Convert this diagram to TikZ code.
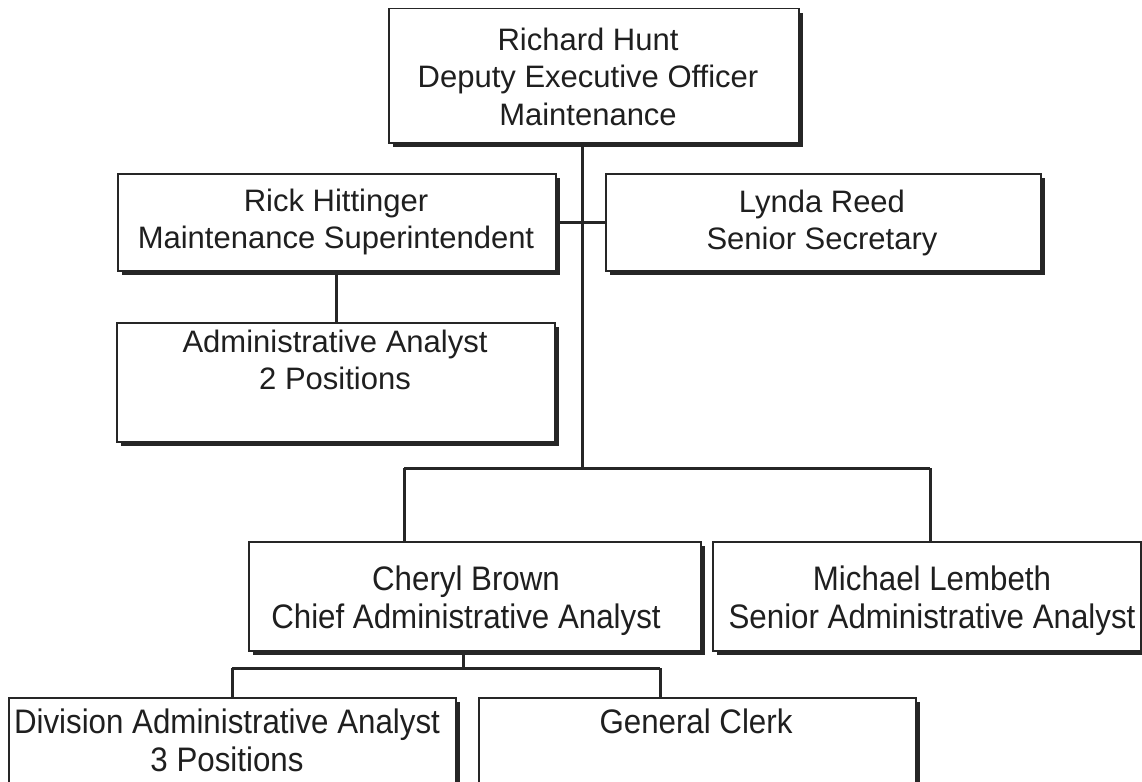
\documentclass[tikz,border=0pt]{standalone}
\usepackage{fontspec}
\setmainfont{Liberation Sans}
\newfontfamily\narrowf{Liberation Sans}[FakeStretch=0.92]
\usetikzlibrary{shadows}
\tikzset{
  orgbox/.style={draw=black!85, line width=1.5pt, fill=white,
    drop shadow={shadow xshift=4.5pt, shadow yshift=-4.5pt, opacity=1, fill=black!85},
    inner sep=0pt, anchor=north west},
  toptxt/.style={inner sep=0pt, align=center, anchor=north, text=black!88,
    font=\fontsize{31}{37.5}\selectfont},
  lowtxt/.style={inner sep=0pt, align=center, anchor=north, text=black!88,
    font=\narrowf\fontsize{34}{38}\selectfont},
  conn/.style={draw=black!85, line width=3pt}
}
\newcommand{\tstrut}{\rule{0pt}{25pt}}
\newcommand{\lstrut}{\rule{0pt}{27pt}}
\begin{document}
\begin{tikzpicture}[x=1pt, y=-1pt]
\useasboundingbox (0,0) rectangle (1142,781);
% boxes
\node[orgbox, minimum width=410pt, minimum height=134pt] (top) at (388,8) {};
\node[orgbox, minimum width=438pt, minimum height=97pt] (rick) at (117,173) {};
\node[orgbox, minimum width=435pt, minimum height=97pt] (lynda) at (605,173) {};
\node[orgbox, minimum width=438pt, minimum height=119pt] (admin) at (116,322) {};
\node[orgbox, minimum width=452pt, minimum height=109pt] (cheryl) at (248,541) {};
\node[orgbox, minimum width=428pt, minimum height=109pt] (michael) at (712,541) {};
\node[orgbox, minimum width=447pt, minimum height=120pt] (division) at (8,697) {};
\node[orgbox, minimum width=437pt, minimum height=120pt] (clerk) at (478,697) {};
% texts
\node[toptxt] (topt) at (588,25) {\tstrut Richard Hunt\\Deputy Executive Officer\\Maintenance};
\node[toptxt] (rickt) at (336,186) {\tstrut Rick Hittinger\\Maintenance Superintendent};
\node[toptxt] (lyndat) at (822,187) {\tstrut Lynda Reed\\Senior Secretary};
\node[toptxt] (admint) at (335,327) {\tstrut Administrative Analyst\\2 Positions};
\node[lowtxt] (cherylt) at (466,563) {\lstrut Cheryl Brown\\Chief Administrative Analyst};
\node[lowtxt] (michaelt) at (932,563) {\lstrut Michael Lembeth\\Senior Administrative Analyst};
\node[lowtxt] (divisiont) at (227,706) {\lstrut Division Administrative Analyst\\3 Positions};
\node[lowtxt] (clerkt) at (696,706) {\lstrut General Clerk};
% junctions
\coordinate (bus) at (582,468);
\coordinate (bL) at (404,468);
\coordinate (bR) at (930,468);
\coordinate (cj) at (463,668);
\coordinate (dL) at (232,668);
\coordinate (dR) at (660,668);
% connectors
\draw[conn] (top.south -| bus) -- (bus);
\draw[conn] (rick.east) -- (lynda.west);
\draw[conn] (rick.south) -- (rick.south |- admin.north);
\draw[conn] (bL) -- (bR);
\draw[conn] (bL) -- (bL |- cheryl.north);
\draw[conn] (bR) -- (bR |- michael.north);
\draw[conn] (cheryl.south -| cj) -- (cj);
\draw[conn] (dL) -- (dR);
\draw[conn] (dL) -- (dL |- division.north);
\draw[conn] (dR) -- (dR |- clerk.north);
\end{tikzpicture}
\end{document}
